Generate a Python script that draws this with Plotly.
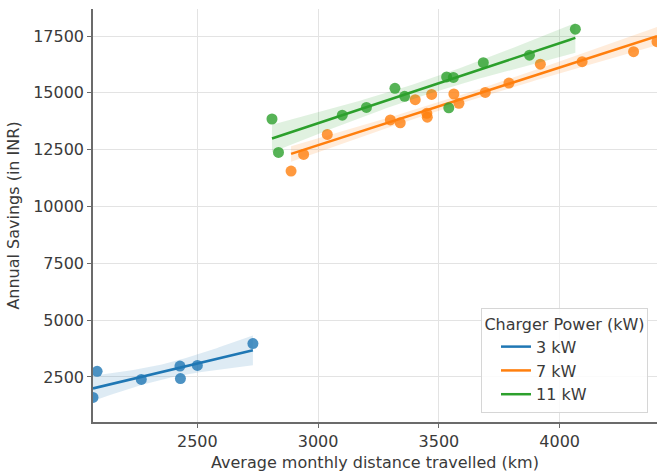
import numpy as np
import plotly.graph_objects as go

# Charger groups and their observations
groups = ["3 kW", "7 kW", "11 kW"]
colors = ["#1f77b4", "#ff7f0e", "#2ca02c"]

dist_3kw = [2068, 2085, 2268, 2428, 2430, 2500, 2730]
save_3kw = [1600, 2750, 2390, 2980, 2430, 3010, 3970]

dist_7kw = [2888, 2940, 3038, 3299, 3340, 3402, 3450, 3452, 3470, 3562, 3583,
            3692, 3790, 3920, 4093, 4306, 4403]
save_7kw = [11560, 12290, 13170, 13810, 13680, 14700, 14100, 13930, 14930,
            14950, 14540, 15020, 15430, 16260, 16370, 16810, 17250]

dist_11kw = [2809, 2836, 3100, 3200, 3318, 3358, 3532, 3541, 3560, 3684,
             3875, 4065]
save_11kw = [13850, 12380, 14020, 14360, 15200, 14850, 15700, 14340, 15680,
             16330, 16660, 17800]

xs = [dist_3kw, dist_7kw, dist_11kw]
ys = [save_3kw, save_7kw, save_11kw]

x_ticks = [2500, 3000, 3500, 4000]
y_ticks = [2500, 5000, 7500, 10000, 12500, 15000, 17500]


def rgba(hex_color, a):
    h = hex_color.lstrip("#")
    r, g, b = int(h[0:2], 16), int(h[2:4], 16), int(h[4:6], 16)
    return f"rgba({r},{g},{b},{a})"


def linear_fit(x, y, z=1.96):
    x = np.asarray(x, float)
    y = np.asarray(y, float)
    slope, icpt = np.polyfit(x, y, 1)
    grid = np.linspace(x.min(), x.max(), 100)
    fit = slope * grid + icpt
    resid = y - (slope * x + icpt)
    n = len(x)
    s = np.sqrt(np.sum(resid ** 2) / (n - 2))
    sxx = np.sum((x - x.mean()) ** 2)
    se = s * np.sqrt(1.0 / n + (grid - x.mean()) ** 2 / sxx)
    return grid, fit, fit - z * se, fit + z * se


fig = go.Figure()

for name, color, x, y in zip(groups, colors, xs, ys):
    grid, fit, lo, hi = linear_fit(x, y)
    # confidence band
    fig.add_trace(go.Scatter(
        x=np.concatenate([grid, grid[::-1]]),
        y=np.concatenate([hi, lo[::-1]]),
        fill="toself", fillcolor=rgba(color, 0.15),
        line=dict(width=0), hoverinfo="skip", showlegend=False,
    ))
    # observations
    fig.add_trace(go.Scatter(
        x=x, y=y, mode="markers",
        marker=dict(color=rgba(color, 0.8), size=11, line=dict(width=0)),
        showlegend=False, name=name,
    ))
    # regression line
    fig.add_trace(go.Scatter(
        x=grid, y=fit, mode="lines",
        line=dict(color=color, width=2.5),
        name=name, showlegend=True,
    ))

FS = 16
TXT = "#3a3a3a"

axis_common = dict(
    showgrid=True, gridcolor="#e3e3e3", gridwidth=1,
    showline=True, linecolor="#6b6b6b", linewidth=1.5,
    ticks="outside", ticklen=4, tickwidth=1.2, tickcolor="#6b6b6b",
    tickfont=dict(family="DejaVu Sans", size=FS, color=TXT),
    tickformat="d",
    zeroline=False, mirror=False,
)

fig.update_layout(
    width=659, height=476,
    margin=dict(l=93, r=2, t=9, b=54),
    paper_bgcolor="white", plot_bgcolor="white",
    font=dict(family="DejaVu Sans", color=TXT),
    xaxis=dict(
        range=[2068, 4403],
        tickvals=x_ticks,
        title=dict(text="Average monthly distance travelled (km)",
                   font=dict(size=FS, color=TXT), standoff=7),
        **axis_common,
    ),
    yaxis=dict(
        range=[519, 18690],
        tickvals=y_ticks,
        title=dict(text="Annual Savings (in INR)",
                   font=dict(size=FS, color=TXT), standoff=10),
        **axis_common,
    ),
    legend=dict(
        title=dict(text="Charger Power (kW)", side="top center",
                   font=dict(size=FS, color=TXT)),
        font=dict(size=FS, color=TXT),
        x=0.984, y=0.022, xanchor="right", yanchor="bottom",
        bgcolor="rgba(255,255,255,0.85)", bordercolor="#d6d6d6",
        borderwidth=1, itemwidth=30, tracegroupgap=0, indentation=14,
    ),
    showlegend=True,
)

fig.write_html("out.html")
